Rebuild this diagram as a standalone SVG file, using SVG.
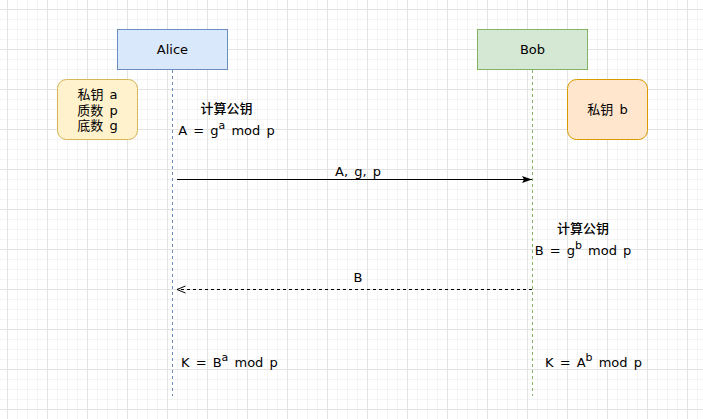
<svg xmlns="http://www.w3.org/2000/svg" width="703" height="419" viewBox="0 0 703 419">
<style>
  text { font-family: "Comic Sans MS", "DejaVu Sans", "Noto Sans CJK SC", sans-serif; font-size: 13px; fill: #000; word-spacing: 2px; }
  .c { text-anchor: middle; }
  .cjk { font-family: "Noto Sans CJK SC", sans-serif; font-size: 13px; font-weight: 500; }
  .sup { font-size: 11px; }
  .life { fill: none; stroke-width: 1; stroke-dasharray: 3 3; }
</style>
<defs>
  <pattern id="grid" x="7" y="9" width="40" height="40" patternUnits="userSpaceOnUse">
    <path d="M10.5 0V40M20.5 0V40M30.5 0V40M0 10.5H40M0 20.5H40M0 30.5H40" stroke="#f4f4f4" stroke-width="1" fill="none"/>
    <path d="M0.5 0V40M0 0.5H40" stroke="#e3e3e3" stroke-width="1" fill="none"/>
  </pattern>
  <marker id="block" viewBox="0 0 10 10" refX="10" refY="5" markerWidth="10" markerHeight="10" markerUnits="userSpaceOnUse" orient="auto">
    <path d="M0 1.5L10 5L0 8.5L2 5Z" fill="#000"/>
  </marker>
  <marker id="open" viewBox="0 0 10 10" refX="9.5" refY="5" markerWidth="10" markerHeight="10" markerUnits="userSpaceOnUse" orient="auto">
    <path d="M1 1.5L9.5 5L1 8.5" fill="none" stroke="#000" stroke-width="1"/>
  </marker>
</defs>
<rect width="703" height="419" fill="#ffffff"/>
<rect width="703" height="419" fill="url(#grid)"/>

<g id="alice">
  <rect x="117.5" y="29.5" width="110" height="40" fill="#dae8fc" stroke="#6c8ebf"/>
  <text class="c" x="172.5" y="54">Alice</text>
  <line class="life" x1="172.5" y1="70" x2="172.5" y2="396" stroke="#6c8ebf"/>
</g>
<g id="bob">
  <rect x="477.5" y="29.5" width="110" height="40" fill="#d5e8d4" stroke="#82b366"/>
  <text class="c" x="532.5" y="54">Bob</text>
  <line class="life" x1="532.5" y1="70" x2="532.5" y2="396" stroke="#82b366"/>
</g>
<g id="alice-note">
  <rect x="57.5" y="79.5" width="80" height="60" rx="9" ry="9" fill="#fff2cc" stroke="#d6b656"/>
  <text class="c" x="97.5" y="99">私钥 a</text>
  <text class="c" x="97.5" y="114.5">质数 p</text>
  <text class="c" x="97.5" y="130">底数 g</text>
</g>
<g id="bob-note">
  <rect x="567.5" y="79.5" width="80" height="60" rx="9" ry="9" fill="#ffe6cc" stroke="#d79b00"/>
  <text class="c" x="607.5" y="114">私钥 b</text>
</g>
<g id="alice-compute">
  <text class="c cjk" x="226.5" y="113">计算公钥</text>
  <text class="c" x="226.5" y="135">A = g<tspan class="sup" dy="-6">a</tspan><tspan dy="6"> mod p</tspan></text>
</g>
<g id="bob-compute">
  <text class="c cjk" x="583" y="233">计算公钥</text>
  <text class="c" x="583" y="255">B = g<tspan class="sup" dy="-6">b</tspan><tspan dy="6"> mod p</tspan></text>
</g>
<g id="alice-key">
  <text x="181" y="367">K = B<tspan class="sup" dy="-6">a</tspan><tspan dy="6"> mod p</tspan></text>
</g>
<g id="bob-key">
  <text x="545" y="367">K = A<tspan class="sup" dy="-6">b</tspan><tspan dy="6"> mod p</tspan></text>
</g>

<g id="connectors">
  <line x1="177" y1="179.5" x2="532" y2="179.5" stroke="#000" stroke-width="1" marker-end="url(#block)"/>
  <text class="c" x="358" y="176">A, g, p</text>
  <line x1="532" y1="289.5" x2="177" y2="289.5" stroke="#000" stroke-width="1" stroke-dasharray="3 3" marker-end="url(#open)"/>
  <text class="c" x="358" y="282">B</text>
</g>
</svg>
